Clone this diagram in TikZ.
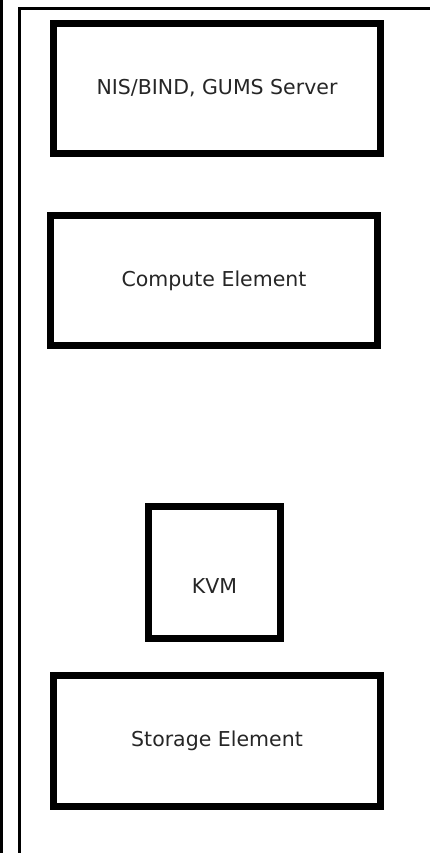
\documentclass[tikz,border=0pt]{standalone}
\usepackage{fontspec}
\setmainfont{DejaVu Sans}
\begin{document}
\begin{tikzpicture}[x=1pt,y=-1pt,
  lbl/.style={font=\fontsize{20.5}{24}\selectfont, text=black!85, inner sep=0pt},
  blk/.style={draw=black, line width=7pt, fill=white, inner sep=0pt, lbl},
  rule/.style={draw=black}]
\useasboundingbox (0,0) rectangle (430,853);
\coordinate (lt) at (1.3,0);
\coordinate (lb) at (1.3,853);
\coordinate (it) at (19.5,9);
\coordinate (ib) at (19.5,853);
\coordinate (tr) at (430,9);
\draw[rule, line width=2.6pt] (lt) -- (lb);
\draw[rule, line width=3pt] (ib) -- (it) -- (tr);
\node[blk, minimum width=327pt, minimum height=130pt] (nis) at (217,88.5) {NIS/BIND, GUMS Server};
\node[blk, minimum width=327pt, minimum height=130pt] (ce) at (214,280.5) {Compute Element};
\node[blk, minimum width=132pt, minimum height=132pt] (kvm) at (214.5,572.5) {};
\node[lbl] (kvmtext) at ([yshift=-14pt]kvm.center) {KVM};
\node[blk, minimum width=327pt, minimum height=131pt] (se) at (217,741) {Storage Element};
\end{tikzpicture}
\end{document}
